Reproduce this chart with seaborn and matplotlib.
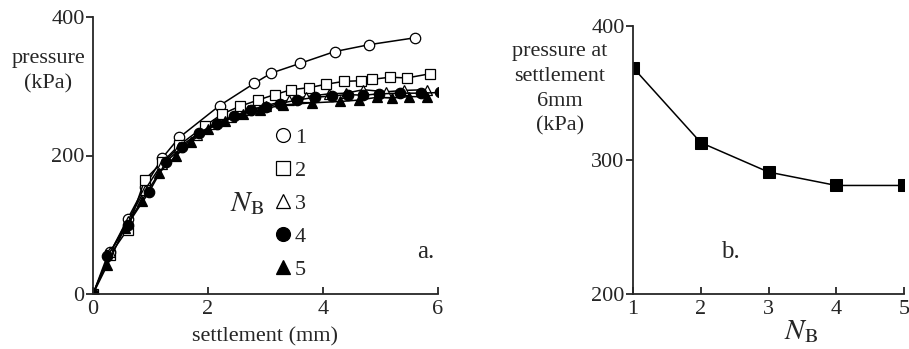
import numpy as np
import pandas as pd
import matplotlib
matplotlib.use("Agg")
import matplotlib.pyplot as plt
from matplotlib.lines import Line2D
import seaborn as sns

# --- (a) pressure vs settlement for N_B = 1..5 ---
s1 = [0, 0.3, 0.6, 0.9, 1.2, 1.5, 2.2, 2.8, 3.1, 3.6, 4.2, 4.8, 5.6]
p1 = [0, 60, 108, 155, 196, 226, 272, 304, 319, 333, 350, 360, 370]

s2 = [0, 0.3, 0.6, 0.9, 1.2, 1.5, 1.95, 2.25, 2.55, 2.87, 3.16, 3.45, 3.76,
      4.06, 4.36, 4.66, 4.86, 5.16, 5.46, 5.86]
p2 = [0, 57, 93, 165, 190, 215, 243, 260, 271, 280, 288, 295, 298,
      303, 307, 308, 310, 313, 312, 318]

s3 = [0, 0.3, 0.6, 0.9, 1.2, 1.5, 1.8, 2.1, 2.4, 2.7, 3.0, 3.4, 3.7, 4.1,
      4.4, 4.7, 5.1, 5.4, 5.8]
p3 = [0, 60, 105, 150, 188, 212, 230, 245, 255, 265, 272, 280, 285, 289,
      290, 295, 292, 294, 295]

s4 = [0, 0.25, 0.6, 0.98, 1.27, 1.55, 1.85, 2.15, 2.45, 2.75, 3.0, 3.25, 3.54,
      3.86, 4.15, 4.44, 4.7, 4.97, 5.34, 5.7, 6.04]
p4 = [0, 55, 100, 148, 191, 212, 232, 246, 257, 265, 270, 275, 280,
      284, 286, 288, 287, 289, 290, 290, 291]

s5 = [0, 0.25, 0.55, 0.85, 1.15, 1.45, 1.7, 2.0, 2.3, 2.6, 2.9, 3.3, 3.8,
      4.3, 4.62, 4.94, 5.2, 5.49, 5.8]
p5 = [0, 42, 95, 135, 175, 200, 220, 238, 250, 260, 266, 273, 276,
      278, 280, 284, 283, 285, 285]

# --- (b) pressure at 6 mm settlement vs N_B ---
nb = [1, 2, 3, 4, 5]
p6 = [369, 313, 291, 281, 281]

series = [
    ("1", s1, p1, "o", "white"),
    ("2", s2, p2, "s", "white"),
    ("3", s3, p3, "^", "white"),
    ("4", s4, p4, "o", "black"),
    ("5", s5, p5, "^", "black"),
]

sns.set_theme(style="ticks")
plt.rcParams["font.family"] = ["Liberation Serif", "DejaVu Serif"]
plt.rcParams["mathtext.fontset"] = "stix"

FS = 16

fig = plt.figure(figsize=(9.09, 3.49), dpi=100)
ax1 = fig.add_axes([93 / 909, 55 / 349, 345 / 909, 277 / 349])
ax2 = fig.add_axes([633 / 909, 55 / 349, 271 / 909, 268 / 349])

handles = []
for lab, s, p, mk, fc in series:
    df = pd.DataFrame({"s": s, "p": p})
    sns.lineplot(data=df, x="s", y="p", ax=ax1, color="black", lw=1.1,
                 marker=mk, markersize=7.5, markerfacecolor=fc,
                 markeredgecolor="black", markeredgewidth=0.9, sort=True)
    handles.append(Line2D([], [], ls="none", marker=mk, markersize=10,
                          markerfacecolor=fc, markeredgecolor="black",
                          markeredgewidth=0.9))

ax1.set_xlim(0, 6)
ax1.set_ylim(0, 400)
ax1.set_xticks([0, 2, 4, 6])
ax1.set_yticks([0, 200, 400])
ax1.set_xlabel("settlement (mm)", fontsize=FS, labelpad=6)
ax1.set_ylabel("")
ax1.text(-0.13, 0.805, "pressure\n(kPa)", transform=ax1.transAxes,
         ha="center", va="center", fontsize=FS, linespacing=1.45)
ax1.legend(handles, ["1", "2", "3", "4", "5"], loc="center left",
           bbox_to_anchor=(0.508, 0.325), frameon=False, fontsize=FS,
           handletextpad=-0.1, labelspacing=0.56, handlelength=1.3,
           borderpad=0.0, borderaxespad=0.0)
ax1.text(0.446, 0.325, r"$N_\mathrm{B}$", transform=ax1.transAxes,
         ha="center", va="center", fontsize=21)
ax1.text(0.965, 0.152, "a.", transform=ax1.transAxes, ha="center",
         va="center", fontsize=18)

df6 = pd.DataFrame({"nb": nb, "p": p6})
sns.lineplot(data=df6, x="nb", y="p", ax=ax2, color="black", lw=1.1,
             marker="s", markersize=9, markerfacecolor="black",
             markeredgecolor="black")
ax2.set_xlim(1, 5)
ax2.set_ylim(200, 400)
ax2.set_xticks(nb)
ax2.set_yticks([200, 300, 400])
ax2.set_xlabel(r"$N_\mathrm{B}$", fontsize=21)
ax2.xaxis.set_label_coords(0.62, -0.09)
ax2.set_ylabel("")
ax2.text(-0.27, 0.765, "pressure at\nsettlement\n6mm\n(kPa)",
         transform=ax2.transAxes, ha="center", va="center", fontsize=FS,
         linespacing=1.4)
ax2.text(0.358, 0.157, "b.", transform=ax2.transAxes, ha="center",
         va="center", fontsize=18)

for ax in (ax1, ax2):
    sns.despine(ax=ax)
    ax.spines["left"].set_linewidth(1.3)
    ax.spines["bottom"].set_linewidth(1.3)
    ax.tick_params(axis="y", direction="out", length=5, width=1.3,
                   labelsize=FS, pad=1)
    ax.tick_params(axis="x", direction="in", length=5, width=1.3,
                   labelsize=FS, pad=4)

fig.savefig("out.png", dpi=100)
